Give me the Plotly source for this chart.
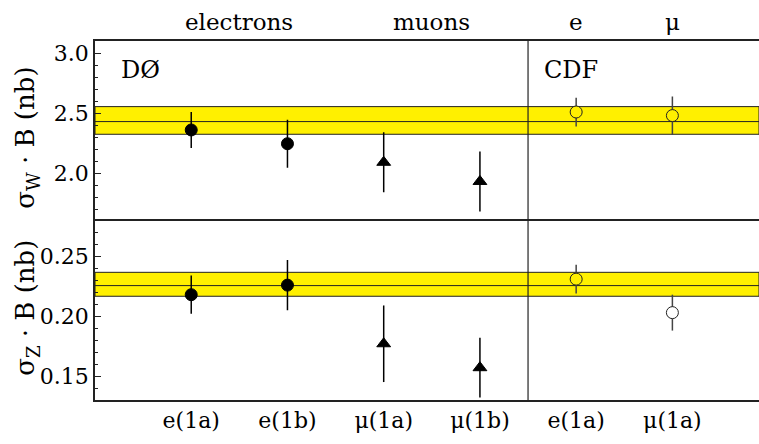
import plotly.graph_objects as go
from plotly.subplots import make_subplots

# ---- data ----
categories = ["e(1a)", "e(1b)", "μ(1a)", "μ(1b)", "e(1a)", "μ(1a)"]
x_pos = [1, 2, 3, 4, 5, 6]

d0e_x = [1, 2]
d0m_x = [3, 4]
cdf_x = [5, 6]

sigW_d0e = [2.36, 2.245]
sigW_d0e_err = [0.15, 0.20]
sigW_d0m = [2.09, 1.93]
sigW_d0m_err = [0.25, 0.25]
sigW_cdf = [2.51, 2.48]
sigW_cdf_err = [0.12, 0.16]

sigZ_d0e = [0.218, 0.226]
sigZ_d0e_err = [0.016, 0.021]
sigZ_d0m = [0.177, 0.157]
sigZ_d0m_err = [0.032, 0.025]
sigZ_cdf = [0.231, 0.203]
sigZ_cdf_err = [0.012, 0.015]

bandW = [2.324, 2.43, 2.555]
bandZ = [0.2167, 0.2256, 0.2367]

top_labels = ["electrons", "muons", "e", "μ"]
top_label_x = [1.5, 3.5, 5, 6]

FONT = "DejaVu Serif"
YEL = "#FFF000"
LC = "#222222"

fig = make_subplots(rows=2, cols=1, shared_xaxes=True, vertical_spacing=0)

def add_points(row, xs, ys, errs, symbol, fill, lcolor, ecolor):
    fig.add_trace(go.Scatter(
        x=xs, y=ys, mode="markers",
        marker=dict(symbol=symbol, size=12, color=fill,
                    line=dict(color=lcolor, width=1)),
        error_y=dict(type="data", array=errs, visible=True, width=0,
                     thickness=1.5, color=ecolor),
        showlegend=False, hoverinfo="skip"), row=row, col=1)

add_points(1, d0e_x, sigW_d0e, sigW_d0e_err, "circle", "black", "black", "black")
add_points(1, d0m_x, sigW_d0m, sigW_d0m_err, "triangle-up", "black", "black", "black")
add_points(1, cdf_x, sigW_cdf, sigW_cdf_err, "circle", [YEL, YEL], "#222222", "#444444")
add_points(2, d0e_x, sigZ_d0e, sigZ_d0e_err, "circle", "black", "black", "black")
add_points(2, d0m_x, sigZ_d0m, sigZ_d0m_err, "triangle-up", "black", "black", "black")
add_points(2, cdf_x, sigZ_cdf, sigZ_cdf_err, "circle", [YEL, "white"], "#222222", "#444444")

shapes = []
for band, yref in ((bandW, "y"), (bandZ, "y2")):
    shapes.append(dict(type="rect", xref="x domain", yref=yref, x0=0, x1=1,
                       y0=band[0], y1=band[2], fillcolor=YEL,
                       line=dict(color=LC, width=1), layer="below"))
    shapes.append(dict(type="line", xref="x domain", yref=yref, x0=0, x1=1,
                       y0=band[1], y1=band[1], line=dict(color=LC, width=1),
                       layer="below"))
shapes.append(dict(type="line", xref="x", yref="paper", x0=4.5, x1=4.5,
                   y0=0, y1=1, line=dict(color=LC, width=1.2)))

annotations = []
for t, xx in zip(top_labels, top_label_x):
    annotations.append(dict(text=t, x=xx, xref="x", y=1, yref="paper",
                            yanchor="bottom", yshift=4, showarrow=False,
                            font=dict(family=FONT, size=23, color="black")))
annotations.append(dict(text="DØ", x=0.47, xref="x", y=2.86, yref="y",
                        showarrow=False, font=dict(family=FONT, size=24, color="black")))
annotations.append(dict(text="CDF", x=4.95, xref="x", y=2.86, yref="y",
                        showarrow=False, font=dict(family=FONT, size=24, color="black")))
annotations.append(dict(text="σ<sub>W</sub> · B (nb)", textangle=-90,
                        x=0, xref="paper", xanchor="center", xshift=-68,
                        y=2.295, yref="y", showarrow=False,
                        font=dict(family=FONT, size=26, color="black")))
annotations.append(dict(text="σ<sub>Z</sub> · B (nb)", textangle=-90,
                        x=0, xref="paper", xanchor="center", xshift=-68,
                        y=0.207, yref="y2", showarrow=False,
                        font=dict(family=FONT, size=26, color="black")))

fig.update_layout(
    width=759, height=444,
    margin=dict(l=95, r=0, t=41, b=44),
    paper_bgcolor="white", plot_bgcolor="white",
    font=dict(family=FONT, size=22, color="black"),
    shapes=shapes, annotations=annotations, showlegend=False,
)

fig.update_xaxes(range=[0, 6.9], showgrid=False, zeroline=False,
                 linecolor=LC, linewidth=1.5, ticks="", tickvals=x_pos)
fig.update_xaxes(showline=True, side="top", mirror=False, row=1, col=1)
fig.update_xaxes(showline=True, mirror=True, ticktext=categories,
                 tickfont=dict(family=FONT, size=22), row=2, col=1)

fig.update_yaxes(showgrid=False, zeroline=False, showline=True,
                 linecolor=LC, linewidth=1.5, mirror=False,
                 ticks="inside", ticklen=6, tickcolor=LC, tickwidth=1,
                 tickfont=dict(family=FONT, size=22))
fig.update_yaxes(range=[1.604, 3.103], tickvals=[2.0, 2.5, 3.0],
                 ticktext=["2.0", "2.5", "3.0"],
                 minor=dict(dtick=0.1, tick0=0, ticks="inside", ticklen=3,
                            tickcolor=LC), row=1, col=1)
fig.update_yaxes(range=[0.13, 0.28], tickvals=[0.15, 0.20, 0.25],
                 ticktext=["0.15", "0.20", "0.25"],
                 minor=dict(dtick=0.01, tick0=0, ticks="inside", ticklen=3,
                            tickcolor=LC), row=2, col=1)

fig.write_html("out.html")
